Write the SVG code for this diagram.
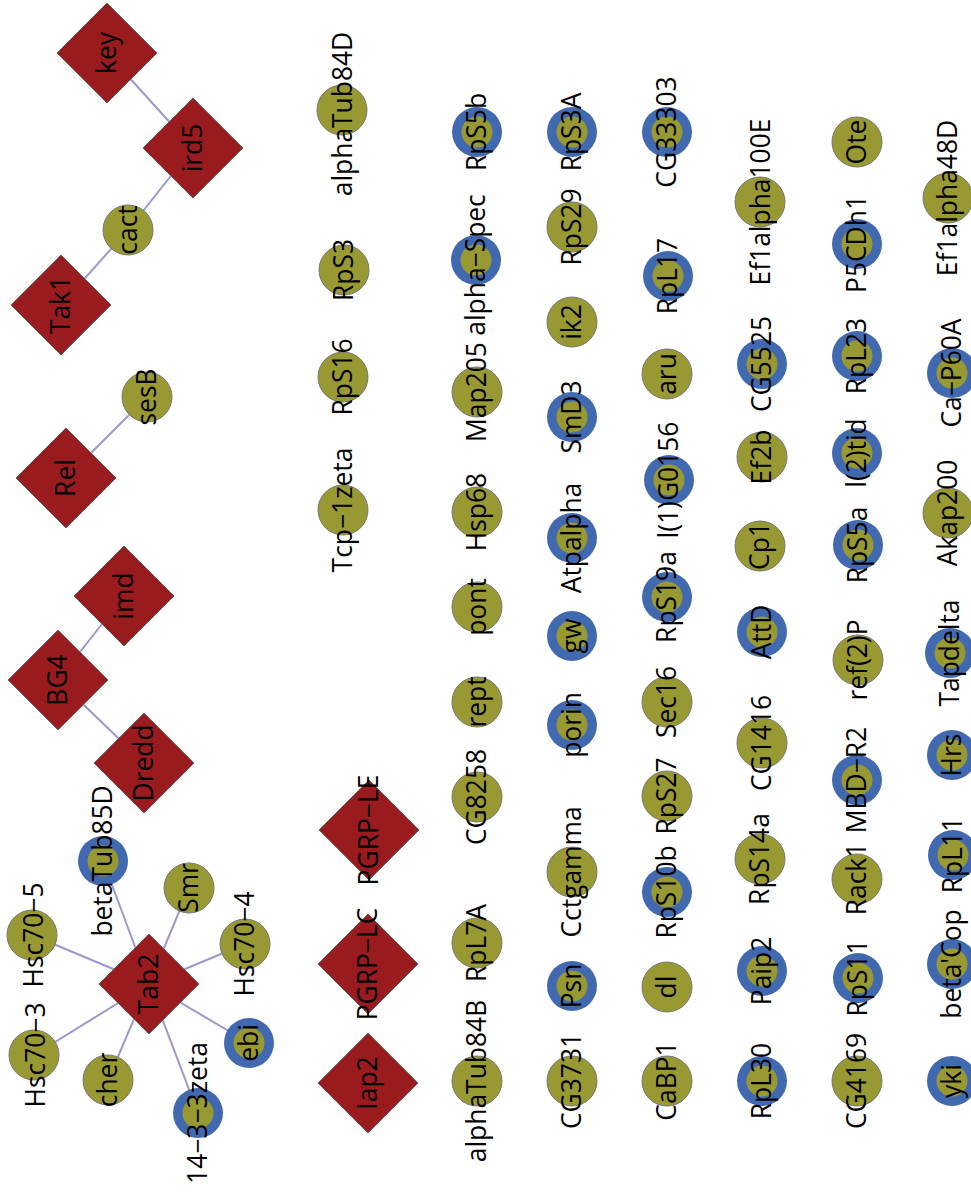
<svg xmlns="http://www.w3.org/2000/svg" xmlns:xlink="http://www.w3.org/1999/xlink" width="971" height="1196" viewBox="0 0 971 1196">
<style>
text{font-family:"Open Sans","Liberation Sans",sans-serif;font-size:26.4px;fill:#000;text-anchor:middle}
.dia{fill:#991b1e;stroke:#666;stroke-width:1}
.c{fill:#999933;stroke:#777;stroke-width:1}
.ro{fill:#4169b0}
.ri{fill:#999933}
#edges line{stroke:#9999cc;stroke-width:2}
</style>
<defs>
<polygon id="dm" class="dia" points="0,-50 50,0 0,50 -50,0"/>
<circle id="cc" class="c" r="25"/>
<g id="rg"><circle class="ro" r="25"/><circle class="ri" r="15.5"/></g>
</defs>
<rect width="971" height="1196" fill="#fff"/>
<g id="edges">
<line x1="107" y1="53" x2="193" y2="148"/>
<line x1="193" y1="148" x2="128" y2="230"/>
<line x1="128" y1="230" x2="61" y2="305"/>
<line x1="66" y1="478" x2="147" y2="397"/>
<line x1="58" y1="680" x2="124" y2="596"/>
<line x1="58" y1="680" x2="144" y2="763"/>
<line x1="149" y1="984" x2="103" y2="861"/>
<line x1="149" y1="984" x2="189" y2="888"/>
<line x1="149" y1="984" x2="32" y2="935"/>
<line x1="149" y1="984" x2="245" y2="944"/>
<line x1="149" y1="984" x2="249" y2="1043"/>
<line x1="149" y1="984" x2="34" y2="1055"/>
<line x1="149" y1="984" x2="108" y2="1080"/>
<line x1="149" y1="984" x2="198" y2="1113"/>
</g>
<!-- top-left clusters -->
<g id="n-key" transform="translate(107,53)"><use xlink:href="#dm"/><text transform="rotate(-90)" y="9">key</text></g>
<g id="n-ird5" transform="translate(193,148)"><use xlink:href="#dm"/><text transform="rotate(-90)" y="9">ird5</text></g>
<g id="n-cact" transform="translate(128,230)"><use xlink:href="#cc"/><text transform="rotate(-90)" y="9">cact</text></g>
<g id="n-Tak1" transform="translate(61,305)"><use xlink:href="#dm"/><text transform="rotate(-90)" y="9">Tak1</text></g>
<g id="n-sesB" transform="translate(147,397)"><use xlink:href="#cc"/><text transform="rotate(-90)" y="9">sesB</text></g>
<g id="n-Rel" transform="translate(66,478)"><use xlink:href="#dm"/><text transform="rotate(-90)" y="9">Rel</text></g>
<g id="n-imd" transform="translate(124,596)"><use xlink:href="#dm"/><text transform="rotate(-90)" y="9">imd</text></g>
<g id="n-BG4" transform="translate(58,680)"><use xlink:href="#dm"/><text transform="rotate(-90)" y="9">BG4</text></g>
<g id="n-Dredd" transform="translate(144,763)"><use xlink:href="#dm"/><text transform="rotate(-90)" y="9">Dredd</text></g>
<g id="n-Tab2" transform="translate(149,984)"><use xlink:href="#dm"/><text transform="rotate(-90)" y="9">Tab2</text></g>
<g id="n-betaTub85D" transform="translate(103,861)"><use xlink:href="#rg"/><text transform="rotate(-90)" y="9">betaTub85D</text></g>
<g id="n-Smr" transform="translate(189,888)"><use xlink:href="#cc"/><text transform="rotate(-90)" y="9">Smr</text></g>
<g id="n-Hsc70-5" transform="translate(32,935)"><use xlink:href="#cc"/><text transform="rotate(-90)" y="11">Hsc70−5</text></g>
<g id="n-Hsc70-4" transform="translate(245,944)"><use xlink:href="#cc"/><text transform="rotate(-90)" y="9">Hsc70−4</text></g>
<g id="n-ebi" transform="translate(249,1043)"><use xlink:href="#rg"/><text transform="rotate(-90)" y="9">ebi</text></g>
<g id="n-Hsc70-3" transform="translate(34,1055)"><use xlink:href="#cc"/><text transform="rotate(-90)" y="11">Hsc70−3</text></g>
<g id="n-cher" transform="translate(108,1080)"><use xlink:href="#cc"/><text transform="rotate(-90)" y="9">cher</text></g>
<g id="n-14-3-3zeta" transform="translate(198,1113)"><use xlink:href="#rg"/><text transform="rotate(-90)" y="9">14−3−3zeta</text></g>
<!-- column A -->
<g id="n-alphaTub84D" transform="translate(342,110)"><use xlink:href="#cc"/><text transform="rotate(-90)" x="-4" y="10">alphaTub84D</text></g>
<g id="n-RpS3" transform="translate(344,270)"><use xlink:href="#cc"/><text transform="rotate(-90)" y="9">RpS3</text></g>
<g id="n-RpS16" transform="translate(343,377)"><use xlink:href="#cc"/><text transform="rotate(-90)" y="9">RpS16</text></g>
<g id="n-Tcp-1zeta" transform="translate(343,510)"><use xlink:href="#cc"/><text transform="rotate(-90)" y="9">Tcp−1zeta</text></g>
<g id="n-PGRP-LE" transform="translate(369,830)"><use xlink:href="#dm"/><text transform="rotate(-90)" y="9">PGRP−LE</text></g>
<g id="n-PGRP-LC" transform="translate(368,964)"><use xlink:href="#dm"/><text transform="rotate(-90)" y="9">PGRP−LC</text></g>
<g id="n-Iap2" transform="translate(368,1083)"><use xlink:href="#dm"/><text transform="rotate(-90)" y="9">Iap2</text></g>
<!-- column B -->
<g id="n-RpS5b" transform="translate(477,132)"><use xlink:href="#rg"/><text transform="rotate(-90)" y="9">RpS5b</text></g>
<g id="n-alpha-Spec" transform="translate(476,260)"><use xlink:href="#rg"/><text transform="rotate(-90)" x="-5" y="9">alpha−Spec</text></g>
<g id="n-Map205" transform="translate(477,392)"><use xlink:href="#cc"/><text transform="rotate(-90)" y="9">Map205</text></g>
<g id="n-Hsp68" transform="translate(477,512)"><use xlink:href="#cc"/><text transform="rotate(-90)" y="9">Hsp68</text></g>
<g id="n-pont" transform="translate(477,607)"><use xlink:href="#cc"/><text transform="rotate(-90)" y="9">pont</text></g>
<g id="n-rept" transform="translate(477,702)"><use xlink:href="#cc"/><text transform="rotate(-90)" y="9">rept</text></g>
<g id="n-CG8258" transform="translate(477,797)"><use xlink:href="#cc"/><text transform="rotate(-90)" y="9">CG8258</text></g>
<g id="n-RpL7A" transform="translate(477,943)"><use xlink:href="#cc"/><text transform="rotate(-90)" y="9">RpL7A</text></g>
<g id="n-alphaTub84B" transform="translate(477,1081)"><use xlink:href="#cc"/><text transform="rotate(-90)" y="9">alphaTub84B</text></g>
<!-- column C -->
<g id="n-RpS3A" transform="translate(572,132)"><use xlink:href="#rg"/><text transform="rotate(-90)" y="9">RpS3A</text></g>
<g id="n-RpS29" transform="translate(572,227)"><use xlink:href="#cc"/><text transform="rotate(-90)" y="9">RpS29</text></g>
<g id="n-ik2" transform="translate(572,322)"><use xlink:href="#cc"/><text transform="rotate(-90)" y="9">ik2</text></g>
<g id="n-SmD3" transform="translate(572,417)"><use xlink:href="#rg"/><text transform="rotate(-90)" y="9">SmD3</text></g>
<g id="n-Atpalpha" transform="translate(572,538)"><use xlink:href="#rg"/><text transform="rotate(-90)" y="9">Atpalpha</text></g>
<g id="n-gw" transform="translate(572,636)"><use xlink:href="#rg"/><text transform="rotate(-90)" y="9">gw</text></g>
<g id="n-porin" transform="translate(572,725)"><use xlink:href="#rg"/><text transform="rotate(-90)" y="9">porin</text></g>
<g id="n-Cctgamma" transform="translate(572,872)"><use xlink:href="#cc"/><text transform="rotate(-90)" y="9">Cctgamma</text></g>
<g id="n-Psn" transform="translate(572,986)"><use xlink:href="#rg"/><text transform="rotate(-90)" y="9">Psn</text></g>
<g id="n-CG3731" transform="translate(572,1081)"><use xlink:href="#cc"/><text transform="rotate(-90)" y="9">CG3731</text></g>
<!-- column D -->
<g id="n-CG33303" transform="translate(667,132)"><use xlink:href="#rg"/><text transform="rotate(-90)" y="9">CG33303</text></g>
<g id="n-RpL17" transform="translate(668,276)"><use xlink:href="#rg"/><text transform="rotate(-90)" y="9">RpL17</text></g>
<g id="n-aru" transform="translate(667,374)"><use xlink:href="#cc"/><text transform="rotate(-90)" y="9">aru</text></g>
<g id="n-l1G0156" transform="translate(669,480)"><use xlink:href="#rg"/><text transform="rotate(-90)" y="9">l(1)G0156</text></g>
<g id="n-RpS19a" transform="translate(667,597)"><use xlink:href="#rg"/><text transform="rotate(-90)" y="9">RpS19a</text></g>
<g id="n-Sec16" transform="translate(667,702)"><use xlink:href="#cc"/><text transform="rotate(-90)" y="9">Sec16</text></g>
<g id="n-RpS27" transform="translate(667,796)"><use xlink:href="#cc"/><text transform="rotate(-90)" y="9">RpS27</text></g>
<g id="n-RpS10b" transform="translate(667,892)"><use xlink:href="#rg"/><text transform="rotate(-90)" y="9">RpS10b</text></g>
<g id="n-dl" transform="translate(667,987)"><use xlink:href="#cc"/><text transform="rotate(-90)" y="9">dl</text></g>
<g id="n-CaBP1" transform="translate(667,1081)"><use xlink:href="#cc"/><text transform="rotate(-90)" y="9">CaBP1</text></g>
<!-- column E -->
<g id="n-Ef1alpha100E" transform="translate(760,202)"><use xlink:href="#cc"/><text transform="rotate(-90)" y="10">Ef1alpha100E</text></g>
<g id="n-CG5525" transform="translate(762,364)"><use xlink:href="#rg"/><text transform="rotate(-90)" y="9">CG5525</text></g>
<g id="n-Ef2b" transform="translate(762,457)"><use xlink:href="#cc"/><text transform="rotate(-90)" y="9">Ef2b</text></g>
<g id="n-Cp1" transform="translate(760,546)"><use xlink:href="#cc"/><text transform="rotate(-90)" y="9">Cp1</text></g>
<g id="n-AttD" transform="translate(762,632)"><use xlink:href="#rg"/><text transform="rotate(-90)" y="9">AttD</text></g>
<g id="n-CG1416" transform="translate(762,743)"><use xlink:href="#cc"/><text transform="rotate(-90)" y="9">CG1416</text></g>
<g id="n-RpS14a" transform="translate(760,859)"><use xlink:href="#cc"/><text transform="rotate(-90)" y="9">RpS14a</text></g>
<g id="n-Paip2" transform="translate(762,971)"><use xlink:href="#rg"/><text transform="rotate(-90)" y="9">Paip2</text></g>
<g id="n-RpL30" transform="translate(762,1081)"><use xlink:href="#rg"/><text transform="rotate(-90)" y="9">RpL30</text></g>
<!-- column F -->
<g id="n-Ote" transform="translate(857,142)"><use xlink:href="#cc"/><text transform="rotate(-90)" y="9">Ote</text></g>
<g id="n-P5CDh1" transform="translate(857,244)"><use xlink:href="#rg"/><text transform="rotate(-90)" y="9">P5CDh1</text></g>
<g id="n-RpL23" transform="translate(857,356)"><use xlink:href="#rg"/><text transform="rotate(-90)" y="9">RpL23</text></g>
<g id="n-l2tid" transform="translate(857,453)"><use xlink:href="#rg"/><text transform="rotate(-90)" y="9">l(2)tid</text></g>
<g id="n-RpS5a" transform="translate(858,545)"><use xlink:href="#rg"/><text transform="rotate(-90)" y="9">RpS5a</text></g>
<g id="n-ref2P" transform="translate(858,660)"><use xlink:href="#cc"/><text transform="rotate(-90)" y="9">ref(2)P</text></g>
<g id="n-MBD-R2" transform="translate(857,780)"><use xlink:href="#rg"/><text transform="rotate(-90)" y="9">MBD−R2</text></g>
<g id="n-Rack1" transform="translate(857,879)"><use xlink:href="#cc"/><text transform="rotate(-90)" y="9">Rack1</text></g>
<g id="n-RpS11" transform="translate(858,978)"><use xlink:href="#rg"/><text transform="rotate(-90)" y="9">RpS11</text></g>
<g id="n-CG4169" transform="translate(857,1081)"><use xlink:href="#cc"/><text transform="rotate(-90)" y="9">CG4169</text></g>
<!-- column G -->
<g id="n-Ef1alpha48D" transform="translate(948,198)"><use xlink:href="#cc"/><text transform="rotate(-90)" y="9">Ef1alpha48D</text></g>
<g id="n-Ca-P60A" transform="translate(952,373)"><use xlink:href="#rg"/><text transform="rotate(-90)" y="9">Ca−P60A</text></g>
<g id="n-Akap200" transform="translate(948,513)"><use xlink:href="#cc"/><text transform="rotate(-90)" y="9">Akap200</text></g>
<g id="n-Tapdelta" transform="translate(950,653)"><use xlink:href="#rg"/><text transform="rotate(-90)" y="9">Tapdelta</text></g>
<g id="n-Hrs" transform="translate(952,755)"><use xlink:href="#rg"/><text transform="rotate(-90)" y="9">Hrs</text></g>
<g id="n-RpL11" transform="translate(953,855)"><use xlink:href="#rg"/><text transform="rotate(-90)" y="9">RpL11</text></g>
<g id="n-betaCop" transform="translate(952,964)"><use xlink:href="#rg"/><text transform="rotate(-90)" y="9">beta'Cop</text></g>
<g id="n-yki" transform="translate(952,1081)"><use xlink:href="#rg"/><text transform="rotate(-90)" y="9">yki</text></g>
</svg>
